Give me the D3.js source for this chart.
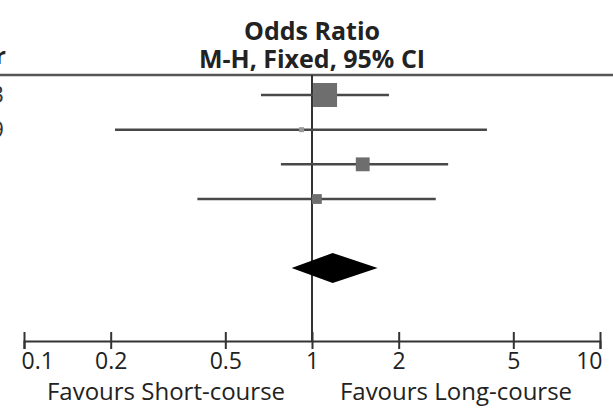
<!DOCTYPE html>
<html>
<head>
<meta charset="utf-8">
<script src="https://cdn.jsdelivr.net/npm/d3@7"></script>
<style>
  body { margin: 0; background: #fff; }
  text { font-family: "Open Sans", sans-serif; }
</style>
</head>
<body>
<svg id="chart" width="613" height="408"></svg>
<script>
// study rows (only the last digit of the year column shows at the left edge)
var years = ["2003", "2009", "2011", "2011"];
var or = [1.11, 0.92, 1.50, 1.04];
var lower = [0.665, 0.207, 0.78, 0.40];
var upper = [1.85, 4.05, 2.97, 2.69];
var weights = [64.8, 2.8, 21.6, 10.8];

// pooled estimate
var total = { or: 1.18, lower: 0.85, upper: 1.69 };

var tickVals = [0.1, 0.2, 0.5, 1, 2, 5, 10];
var tickLabels = ["0.1", "0.2", "0.5", "1", "2", "5", "10"];

var svg = d3.select("#chart");

var x = d3.scaleLog().domain([0.1, 10]).range([24, 600]);
var y = d3.scaleLinear().domain([0, 3]).range([95, 199]);
var size = d3.scaleSqrt().domain([0, 64.8]).range([0, 24]);
var axisY = 341;

// header
svg.append("text").attr("x", 312).attr("y", 40)
  .attr("text-anchor", "middle").attr("font-size", 25).attr("font-weight", 700)
  .attr("fill", "#222").text("Odds Ratio");
svg.append("text").attr("x", 312).attr("y", 68)
  .attr("text-anchor", "middle").attr("font-size", 25).attr("font-weight", 700)
  .attr("fill", "#222").text("M-H, Fixed, 95% CI");
svg.append("text").attr("x", 6).attr("y", 64)
  .attr("text-anchor", "end").attr("font-size", 24).attr("font-weight", 700)
  .attr("fill", "#222").text("Year");

svg.append("line")
  .attr("x1", 0).attr("x2", 613).attr("y1", 75).attr("y2", 75)
  .attr("stroke", "#555").attr("stroke-width", 2.5);

// year column, mostly clipped
svg.selectAll(".lab").data(years).enter().append("text")
  .attr("class", "lab")
  .attr("x", 4).attr("y", function(d, i) { return y(i) + 8; })
  .attr("text-anchor", "end").attr("font-size", 23)
  .attr("fill", "#333").text(function(d) { return d; });

// line of no effect
svg.append("line")
  .attr("x1", x(1)).attr("x2", x(1)).attr("y1", 75).attr("y2", axisY)
  .attr("stroke", "#333").attr("stroke-width", 2);

// confidence intervals
svg.selectAll(".ci").data(or).enter().append("line")
  .attr("class", "ci")
  .attr("x1", function(d, i) { return x(lower[i]); })
  .attr("x2", function(d, i) { return x(upper[i]); })
  .attr("y1", function(d, i) { return y(i); })
  .attr("y2", function(d, i) { return y(i); })
  .attr("stroke", "#484848").attr("stroke-width", 2.5);

// weight squares
svg.selectAll(".sq").data(or).enter().append("rect")
  .attr("class", "sq")
  .attr("x", function(d, i) { return x(d) - size(weights[i]) / 2; })
  .attr("y", function(d, i) { return y(i) - size(weights[i]) / 2; })
  .attr("width", function(d, i) { return size(weights[i]); })
  .attr("height", function(d, i) { return size(weights[i]); })
  .attr("fill", function(d, i) { return weights[i] < 5 ? "#999" : "#6e6e6e"; });

// pooled diamond
var dy = 268, dh = 15;
svg.append("path")
  .attr("d", "M" + x(total.lower) + "," + dy +
    "L" + x(total.or) + "," + (dy - dh) +
    "L" + x(total.upper) + "," + dy +
    "L" + x(total.or) + "," + (dy + dh) + "Z")
  .attr("fill", "#000");

// axis
var axis = d3.axisBottom(x).tickValues(tickVals)
  .tickFormat(function(d, i) { return tickLabels[i]; })
  .tickSize(8).tickPadding(4);
var gx = svg.append("g").attr("transform", "translate(0," + axisY + ")").call(axis);
gx.select(".domain").attr("stroke", "#333").attr("stroke-width", 2);
gx.selectAll(".tick line").attr("y1", -9).attr("stroke", "#333").attr("stroke-width", 2);
gx.selectAll(".tick text")
  .attr("font-family", "Open Sans, sans-serif").attr("font-size", 23).attr("fill", "#222")
  .attr("text-anchor", function(d) { return d === 0.1 ? "start" : (d === 10 ? "end" : "middle"); })
  .attr("dx", function(d) { return d === 0.1 ? -3 : (d === 10 ? 2 : 0); });

svg.append("text").attr("x", 166).attr("y", 400)
  .attr("text-anchor", "middle").attr("font-size", 24).attr("fill", "#222")
  .text("Favours Short-course");
svg.append("text").attr("x", 456).attr("y", 400)
  .attr("text-anchor", "middle").attr("font-size", 24).attr("fill", "#222")
  .text("Favours Long-course");
</script>
</body>
</html>
